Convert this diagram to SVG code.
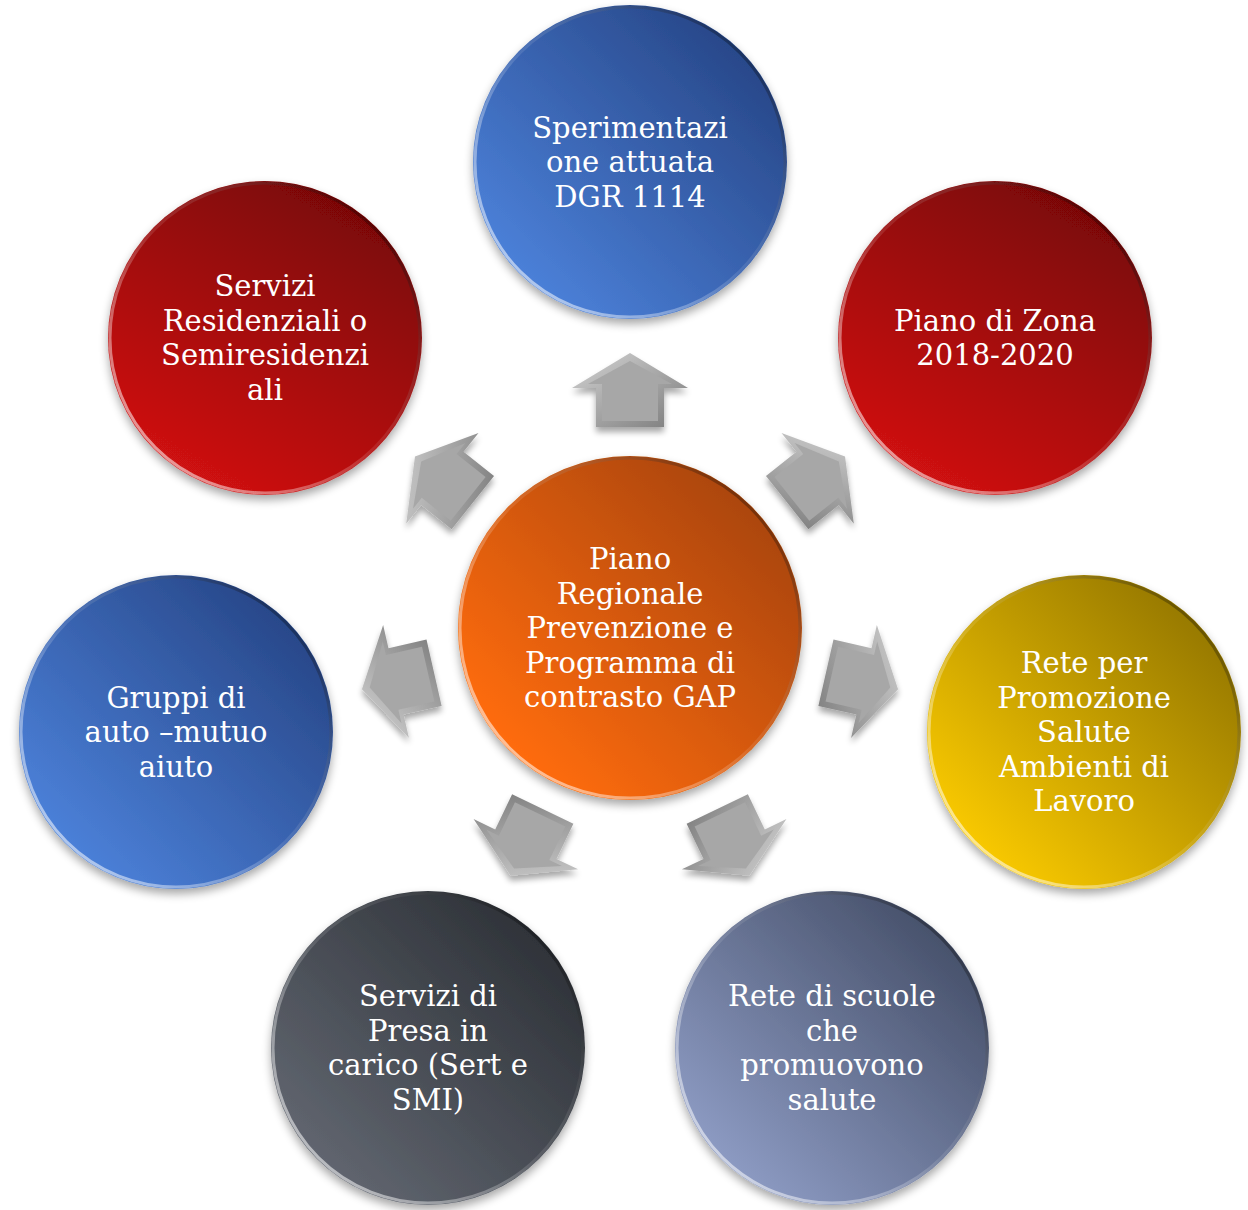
<svg xmlns="http://www.w3.org/2000/svg" xmlns:xlink="http://www.w3.org/1999/xlink" width="1248" height="1210" viewBox="0 0 1248 1210">
<style>
  .lbl { font-family: "DejaVu Serif", "Liberation Serif", serif; font-size: 29px; fill: #ffffff; text-anchor: middle; }
  .rim { fill: none; stroke-width: 3; }
  .arrow-out { fill: url(#gArrowOut); }
  .arrow-in { fill: #a7a7a7; }
</style>
<defs>
  <filter id="shC" x="-20%" y="-20%" width="140%" height="145%">
    <feGaussianBlur in="SourceAlpha" stdDeviation="5"/>
    <feOffset dx="0" dy="5" result="b"/>
    <feComponentTransfer><feFuncA type="linear" slope="0.35"/></feComponentTransfer>
    <feMerge><feMergeNode/><feMergeNode in="SourceGraphic"/></feMerge>
  </filter>
  <filter id="shA" x="-30%" y="-30%" width="160%" height="170%">
    <feGaussianBlur in="SourceAlpha" stdDeviation="3"/>
    <feOffset dx="0" dy="5" result="b"/>
    <feComponentTransfer><feFuncA type="linear" slope="0.35"/></feComponentTransfer>
    <feMerge><feMergeNode/><feMergeNode in="SourceGraphic"/></feMerge>
  </filter>
  <linearGradient id="gArrowOut" x1="0" y1="0" x2="1" y2="1">
    <stop offset="0" stop-color="#d4d4d4"/>
    <stop offset="0.5" stop-color="#a8a8a8"/>
    <stop offset="1" stop-color="#7a7a7a"/>
  </linearGradient>
  <linearGradient id="gBlue" x1="0.15" y1="0.85" x2="0.85" y2="0.15">
    <stop offset="0" stop-color="#4b80d8"/>
    <stop offset="1" stop-color="#28488a"/>
  </linearGradient>
  <linearGradient id="gRed" x1="0.25" y1="0.95" x2="0.75" y2="0.05">
    <stop offset="0" stop-color="#d01212"/>
    <stop offset="1" stop-color="#7a0606"/>
  </linearGradient>
  <linearGradient id="gGold" x1="0.15" y1="0.85" x2="0.85" y2="0.15">
    <stop offset="0" stop-color="#f8c800"/>
    <stop offset="1" stop-color="#987a02"/>
  </linearGradient>
  <linearGradient id="gSlate" x1="0.15" y1="0.85" x2="0.85" y2="0.15">
    <stop offset="0" stop-color="#8c9ac2"/>
    <stop offset="1" stop-color="#48526c"/>
  </linearGradient>
  <linearGradient id="gChar" x1="0.15" y1="0.85" x2="0.85" y2="0.15">
    <stop offset="0" stop-color="#60656f"/>
    <stop offset="1" stop-color="#2f3339"/>
  </linearGradient>
  <linearGradient id="gOrange" x1="0.15" y1="0.85" x2="0.85" y2="0.15">
    <stop offset="0" stop-color="#ff6c08"/>
    <stop offset="1" stop-color="#ac4608"/>
  </linearGradient>
  <linearGradient id="gRim" x1="0.15" y1="0.85" x2="0.85" y2="0.15">
    <stop offset="0" stop-color="#ffffff" stop-opacity="0.55"/>
    <stop offset="0.5" stop-color="#ffffff" stop-opacity="0.1"/>
    <stop offset="1" stop-color="#000000" stop-opacity="0.3"/>
  </linearGradient>
  <g id="arrowShape">
    <polygon class="arrow-out" points="0,-37 58,-2 34,-2 34,37 -34,37 -34,-2 -58,-2"/>
    <polygon class="arrow-in" points="0,-29 42,-6 28,-6 28,31 -28,31 -28,-6 -42,-6"/>
  </g>
</defs>

<g id="connectors">
  <g filter="url(#shA)"><use xlink:href="#arrowShape" transform="translate(630,390) rotate(0)"/></g>
  <g filter="url(#shA)"><use xlink:href="#arrowShape" transform="translate(816.1,479.6) rotate(51.43)"/></g>
  <g filter="url(#shA)"><use xlink:href="#arrowShape" transform="translate(862,681) rotate(102.86)"/></g>
  <g filter="url(#shA)"><use xlink:href="#arrowShape" transform="translate(733.3,842.4) rotate(154.29)"/></g>
  <g filter="url(#shA)"><use xlink:href="#arrowShape" transform="translate(526.7,842.4) rotate(205.71)"/></g>
  <g filter="url(#shA)"><use xlink:href="#arrowShape" transform="translate(398,681) rotate(257.14)"/></g>
  <g filter="url(#shA)"><use xlink:href="#arrowShape" transform="translate(443.9,479.6) rotate(308.57)"/></g>
</g>

<g id="node-center">
  <circle cx="630" cy="628" r="172" fill="url(#gOrange)" filter="url(#shC)"/>
  <circle class="rim" cx="630" cy="628" r="170" stroke="url(#gRim)"/>
  <text class="lbl"><tspan x="630" y="569">Piano</tspan><tspan x="630" y="603.5">Regionale</tspan><tspan x="630" y="638">Prevenzione e</tspan><tspan x="630" y="672.5">Programma di</tspan><tspan x="630" y="707">contrasto GAP</tspan></text>
</g>

<g id="node-top">
  <circle cx="630" cy="162" r="157" fill="url(#gBlue)" filter="url(#shC)"/>
  <circle class="rim" cx="630" cy="162" r="155" stroke="url(#gRim)"/>
  <text class="lbl"><tspan x="630" y="137.5">Sperimentazi</tspan><tspan x="630" y="172">one attuata</tspan><tspan x="630" y="206.5">DGR 1114</tspan></text>
</g>

<g id="node-topright">
  <circle cx="995" cy="338" r="157" fill="url(#gRed)" filter="url(#shC)"/>
  <circle class="rim" cx="995" cy="338" r="155" stroke="url(#gRim)"/>
  <text class="lbl"><tspan x="995" y="330.75">Piano di Zona</tspan><tspan x="995" y="365.25">2018-2020</tspan></text>
</g>

<g id="node-right">
  <circle cx="1084" cy="732" r="157" fill="url(#gGold)" filter="url(#shC)"/>
  <circle class="rim" cx="1084" cy="732" r="155" stroke="url(#gRim)"/>
  <text class="lbl"><tspan x="1084" y="673">Rete per</tspan><tspan x="1084" y="707.5">Promozione</tspan><tspan x="1084" y="742">Salute</tspan><tspan x="1084" y="776.5">Ambienti di</tspan><tspan x="1084" y="811">Lavoro</tspan></text>
</g>

<g id="node-bottomright">
  <circle cx="832" cy="1048" r="157" fill="url(#gSlate)" filter="url(#shC)"/>
  <circle class="rim" cx="832" cy="1048" r="155" stroke="url(#gRim)"/>
  <text class="lbl"><tspan x="832" y="1006.25">Rete di scuole</tspan><tspan x="832" y="1040.75">che</tspan><tspan x="832" y="1075.25">promuovono</tspan><tspan x="832" y="1109.75">salute</tspan></text>
</g>

<g id="node-bottomleft">
  <circle cx="428" cy="1048" r="157" fill="url(#gChar)" filter="url(#shC)"/>
  <circle class="rim" cx="428" cy="1048" r="155" stroke="url(#gRim)"/>
  <text class="lbl"><tspan x="428" y="1006.25">Servizi di</tspan><tspan x="428" y="1040.75">Presa in</tspan><tspan x="428" y="1075.25">carico (Sert e</tspan><tspan x="428" y="1109.75">SMI)</tspan></text>
</g>

<g id="node-left">
  <circle cx="176" cy="732" r="157" fill="url(#gBlue)" filter="url(#shC)"/>
  <circle class="rim" cx="176" cy="732" r="155" stroke="url(#gRim)"/>
  <text class="lbl"><tspan x="176" y="707.5">Gruppi di</tspan><tspan x="176" y="742">auto –mutuo</tspan><tspan x="176" y="776.5">aiuto</tspan></text>
</g>

<g id="node-topleft">
  <circle cx="265" cy="338" r="157" fill="url(#gRed)" filter="url(#shC)"/>
  <circle class="rim" cx="265" cy="338" r="155" stroke="url(#gRim)"/>
  <text class="lbl"><tspan x="265" y="296.25">Servizi</tspan><tspan x="265" y="330.75">Residenziali o</tspan><tspan x="265" y="365.25">Semiresidenzi</tspan><tspan x="265" y="399.75">ali</tspan></text>
</g>
</svg>
